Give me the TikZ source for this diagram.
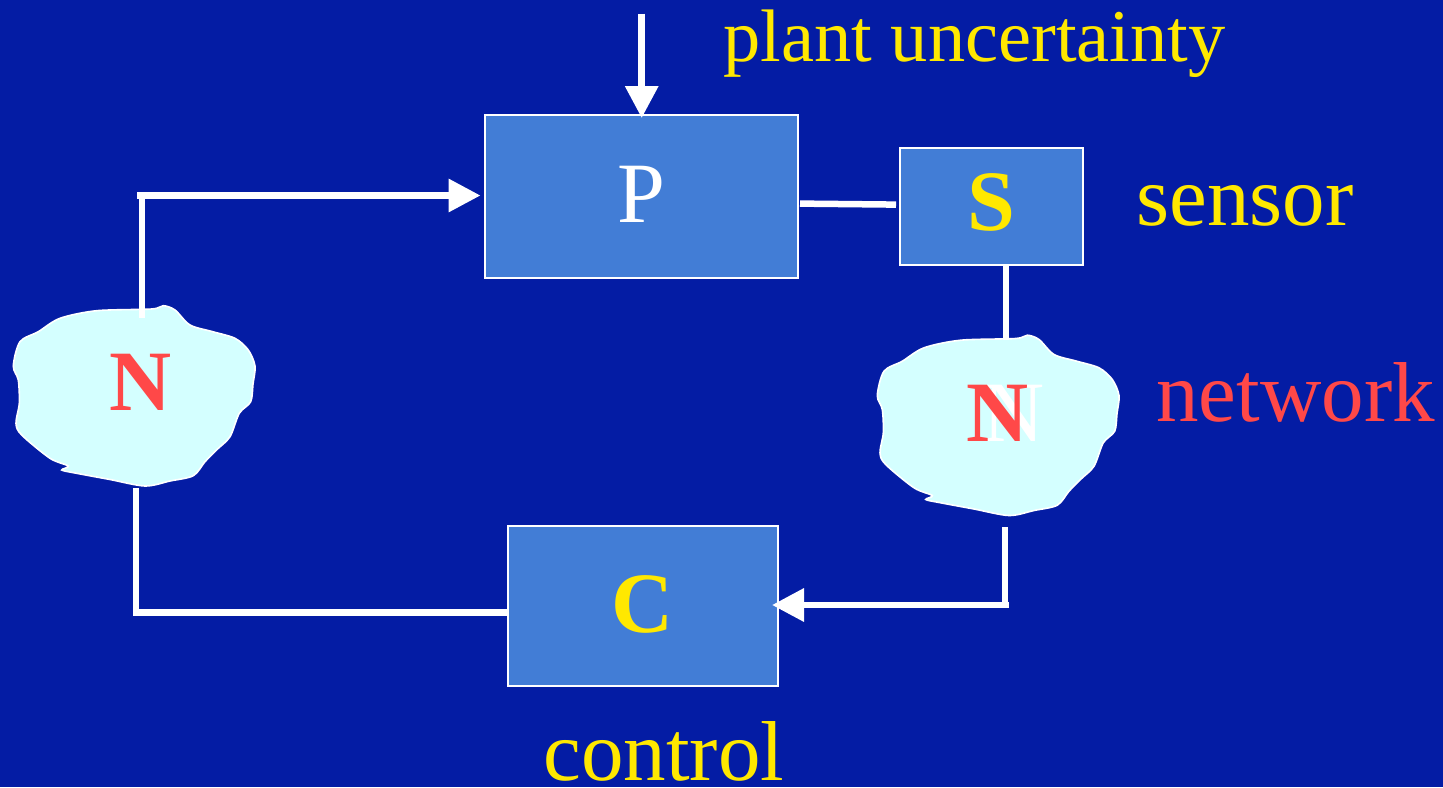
\documentclass[tikz,border=0pt]{standalone}
\usepackage{fontspec}
\setmainfont{Liberation Serif}
\usetikzlibrary{arrows.meta, positioning}
\definecolor{slideblue}{RGB}{4, 28, 164}
\definecolor{boxblue}{RGB}{66, 125, 214}
\definecolor{cloudcyan}{RGB}{212, 255, 255}
\definecolor{netred}{RGB}{255, 72, 72}
\definecolor{capyellow}{RGB}{255, 232, 0}
\tikzset{
  blockbox/.style={draw=white, fill=boxblue, line width=0.8pt, inner sep=0pt},
  caption/.style={anchor=base west, inner sep=0pt, font=\fontsize{42.5}{42.5}\selectfont},
  letter/.style={inner sep=0pt, font=\fontsize{43}{43}\selectfont},
  wire/.style={draw=white, line width=3.25pt},
  arrowwire/.style={wire, -{Triangle[length=16pt, width=16pt]}},
  netcloud/.pic={
    \draw[white, fill=cloudcyan, line width=0.8pt] plot[smooth cycle, tension=0.5] coordinates {
      (151.7,19) (163.3,15.7) (175,20) (190,35) (212,41.5) (235,48.3) (248.3,60) (255,76)
      (253,94) (250.7,111.7) (239.3,123.3) (230,146.7) (217,159.5) (205,171.7) (193.3,185.7) (170,191) (145,196)
      (110,189.5) (76.7,183.3) (61.7,180) (68.3,176) (50,168.3) (21.7,145) (16,133.3)
      (19.3,113.3) (18.3,90) (13.3,76) (20,51.7) (38.3,41.7) (60,28.3) (96.7,20.7)};
  }
}

\begin{document}
\begin{tikzpicture}[x=0.5pt, y=-0.5pt]
  \useasboundingbox (0,0) rectangle (1443,787);
  \fill[slideblue] (0,0) rectangle (1443,787);

  \pic at (0,290) {netcloud};
  \pic at (864,319.5) {netcloud};

  \node[blockbox, minimum width=156.5pt, minimum height=81.5pt, text=white, letter, text depth=2.3pt] (plant) at (641.5,196.5) {P};
  \node[blockbox, minimum width=91.5pt, minimum height=58.5pt, text=capyellow, letter, text depth=4.2pt] (sensor) at (991.5,206.5) {\textbf{S}};
  \node[blockbox, minimum width=135pt, minimum height=80pt, text=capyellow, letter, text depth=1.7pt] (control) at (643,606) {\textbf{C}};
  \node[letter, text=netred] (netl) at (141,382) {\textbf{N}};
  \node[letter, text=white] (netrw) at (1014,413) {N};
  \node[letter, text=netred] (netr) at (998,413) {\textbf{N}};

  \node[caption, text=capyellow, font=\fontsize{37.2}{37.2}\selectfont] (uncertlabel) at (723,61.7) {plant uncertainty};
  \node[caption, text=capyellow] (sensorlabel) at (1136,225) {sensor};
  \node[caption, text=netred] (netlabel) at (1156,421) {network};
  \node[caption, text=capyellow] (controllabel) at (543,780) {control};

  \coordinate (distin) at (641.7,13.5);
  \coordinate (disttip) at (641.7,118);
  \coordinate (cloudltop) at (142,318);
  \coordinate (cornerlt) at (142,192);
  \coordinate (cornerlh) at (137,195.5);
  \coordinate (plantin) at (480.5,195.5);
  \coordinate (cloudlbot) at (136,488);
  \coordinate (cornerbl) at (136,615.5);
  \coordinate (cornerbh) at (136,612.3);
  \coordinate (plantout) at (800,203.6);
  \coordinate (sensorin) at (896,204.6);
  \coordinate (cloudrtop) at (1006,340);
  \coordinate (cloudrbot) at (1005,527);
  \coordinate (cornerbr) at (1005,602);
  \coordinate (cornerbrh) at (1008.5,605);
  \coordinate (controlin) at (772,605);

  \draw[arrowwire] (distin) -- (disttip);
  \draw[wire] (cloudltop) -- (cornerlt);
  \draw[arrowwire] (cornerlh) -- (plantin);
  \draw[wire] (cloudlbot) -- (cornerbl);
  \draw[wire] (cornerbh) -- (cornerbh -| control.west);
  \draw[wire] (plantout) -- (sensorin);
  \draw[wire] (sensor.south -| cloudrtop) -- (cloudrtop);
  \draw[wire] (cloudrbot) -- (cornerbr);
  \draw[arrowwire] (cornerbrh) -- (controlin);
\end{tikzpicture}
\end{document}
